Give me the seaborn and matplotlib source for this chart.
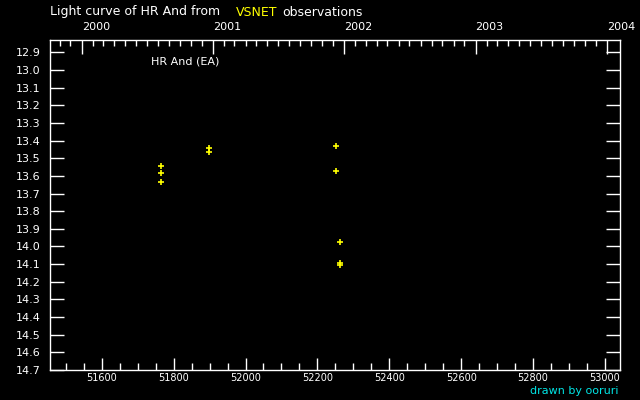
import numpy as np
import pandas as pd
import matplotlib
matplotlib.use("Agg")
import matplotlib.pyplot as plt
import seaborn as sns
from matplotlib.ticker import MultipleLocator, FixedLocator, FixedFormatter

# Data (MJD, visual magnitude)
mjd = [51765, 51765, 51765, 51899, 51899, 52252, 52252, 52263, 52263, 52263]
mag = [13.546, 13.586, 13.637, 13.444, 13.467, 13.433, 13.574, 13.976, 14.092, 14.107]
years = [2000, 2001, 2002, 2003, 2004]
title_parts = ["Light curve of HR And from", "VSNET", "observations"]
star_label = "HR And (EA)"
credit = "drawn by ooruri"

df = pd.DataFrame({"MJD": mjd, "mag": mag})

sns.set_theme(style="dark")
plt.rcParams["font.family"] = ["DejaVu Sans"]

fig = plt.figure(figsize=(6.4, 4.0), dpi=100, facecolor="black")
ax = fig.add_axes([50/640, 1-370/400, 570/640, 330/400])
ax.set_facecolor("black")

sns.scatterplot(data=df, x="MJD", y="mag", marker="+", color="#ffff00",
                s=14, linewidth=1.2, ax=ax, legend=False)

ax.set_xlim(51456, 53042)
ax.set_ylim(14.7, 12.83)
ax.set_xlabel("")
ax.set_ylabel("")
ax.grid(False)

for sp in ax.spines.values():
    sp.set_color("white")
    sp.set_linewidth(1.0)
    sp.set_visible(True)

ax.xaxis.set_major_locator(MultipleLocator(200))
ax.xaxis.set_minor_locator(MultipleLocator(50))
ax.yaxis.set_major_locator(FixedLocator(np.round(np.arange(12.9, 14.71, 0.1), 1)))
ax.yaxis.set_major_formatter(matplotlib.ticker.FormatStrFormatter("%.1f"))
ax.tick_params(axis="x", which="major", direction="in", length=9, width=1,
               color="white", labelcolor="white", labelsize=7, pad=2,
               bottom=True, top=False)
ax.tick_params(axis="x", which="minor", direction="in", length=5, width=1,
               color="white", bottom=True, top=False)
ax.tick_params(axis="y", which="major", direction="in", length=10, width=1,
               color="white", labelcolor="white", labelsize=8, pad=7,
               left=True, right=True)

# Top axis: years
epoch = pd.Timestamp("1858-11-17")
year_mjd = [(pd.Timestamp(f"{y}-01-01") - epoch).days for y in years]
month_mjd = [(d - epoch).days for d in pd.date_range("1999-11-01", "2004-01-01", freq="MS")]
month_mjd = [m for m in month_mjd if m not in year_mjd]
ax2 = ax.twiny()
ax2.set_xlim(ax.get_xlim())
ax2.grid(False)
ax2.xaxis.set_major_locator(FixedLocator(year_mjd))
ax2.xaxis.set_major_formatter(FixedFormatter([str(y) for y in years]))
ax2.xaxis.set_minor_locator(FixedLocator(month_mjd))
ax2.tick_params(axis="x", which="major", direction="in", length=10, width=1,
                color="white", labelcolor="white", labelsize=8, pad=5.5,
                top=True, bottom=False)
ax2.tick_params(axis="x", which="minor", direction="in", length=4, width=1,
                color="white", top=True, bottom=False)
for lab in ax2.get_xticklabels():
    lab.set_horizontalalignment("left")
for sp in ax2.spines.values():
    sp.set_visible(False)

# Texts
fig.text(50/640, 1-12/400, title_parts[0], color="white", fontsize=9, ha="left", va="center")
fig.text(236/640, 1-12/400, title_parts[1], color="#ffff00", fontsize=9, ha="left", va="center")
fig.text(282/640, 1-12/400, title_parts[2], color="white", fontsize=9, ha="left", va="center")
fig.text(151/640, 1-62/400, star_label, color="white", fontsize=8, ha="left", va="center")
fig.text(618/640, 1-391/400, credit, color="#00e5e5", fontsize=8, ha="right", va="center")

fig.savefig("out.png", dpi=100, facecolor="black")
